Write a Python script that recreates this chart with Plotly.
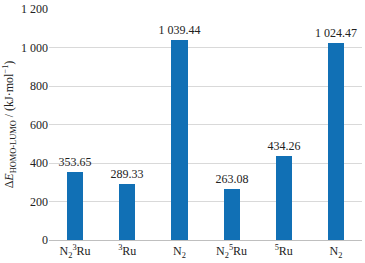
import plotly.graph_objects as go

categories = ["N<sub>2</sub><sup>3</sup>Ru", "<sup>3</sup>Ru", "N<sub>2</sub>",
              "N<sub>2</sub><sup>5</sup>Ru", "<sup>5</sup>Ru", "N<sub>2</sub>"]
values = [353.65, 289.33, 1039.44, 263.08, 434.26, 1024.47]
value_labels = ["353.65", "289.33", "1 039.44", "263.08", "434.26", "1 024.47"]
y_ticks = [0, 200, 400, 600, 800, 1000, 1200]
y_tick_labels = ["0", "200", "400", "600", "800", "1 000", "1 200"]

SERIF = "'Times New Roman', 'Liberation Serif', serif"
xpos = list(range(len(categories)))

fig = go.Figure(go.Bar(
    x=xpos, y=values, text=value_labels, textposition="outside",
    textfont=dict(family=SERIF, size=12, color="#222"),
    constraintext="none",
    marker=dict(color="#1170b5", line=dict(width=0)),
    width=0.31, cliponaxis=False,
))

fig.update_layout(
    width=365, height=263,
    margin=dict(l=49, r=3, t=9, b=23, autoexpand=False),
    plot_bgcolor="white", paper_bgcolor="white",
    font=dict(family=SERIF, size=12, color="#222"),
    showlegend=False,
    bargap=0,
    uniformtext=dict(minsize=12, mode="show"),
)
fig.update_xaxes(
    tickvals=xpos, ticktext=categories, range=[-0.5, 5.5],
    showgrid=False, showline=True, linecolor="#bfbfbf", linewidth=1,
    ticks="", tickfont=dict(family=SERIF, size=12, color="#222"),
    ticklabelstandoff=0, automargin=False,
)
fig.update_yaxes(
    range=[0, 1200], tickvals=y_ticks, ticktext=y_tick_labels,
    showgrid=True, gridcolor="#d9d9d9", gridwidth=1,
    zeroline=False, ticks="", tickfont=dict(family=SERIF, size=12, color="#222"),
    automargin=False,
    title=dict(text="Δ<i>E</i><sub>HOMO-LUMO</sub> / (kJ·mol<sup>−1</sup>)",
               font=dict(family=SERIF, size=12, color="#222"), standoff=4),
)

fig.write_html("out.html", config={"displayModeBar": False},
               post_script="document.body.style.margin='0';document.body.style.padding='0';")
